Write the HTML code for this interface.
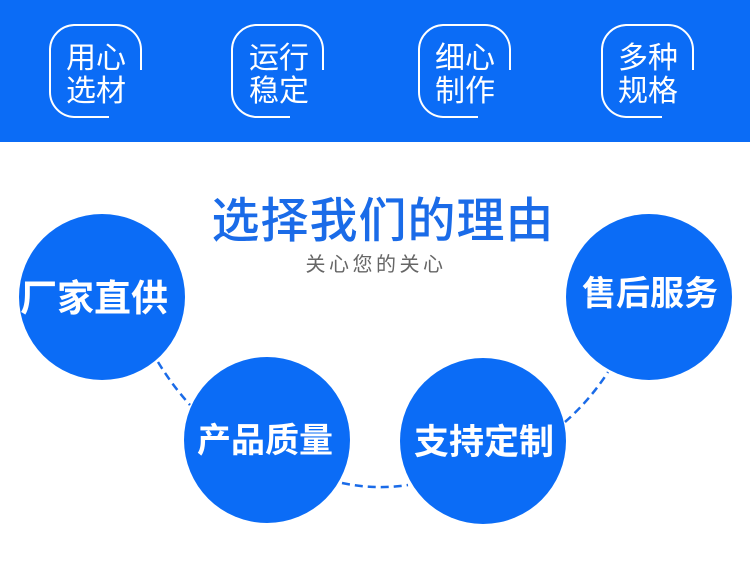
<!DOCTYPE html>
<html><head><meta charset="utf-8"><style>
html,body{margin:0;padding:0;background:#fff;}
svg{display:block;}
text{font-family:"Liberation Sans","Noto Sans CJK SC",sans-serif;}
</style></head><body>
<svg width="750" height="588" viewBox="0 0 750 588" xmlns="http://www.w3.org/2000/svg">
<rect x="0" y="0" width="750" height="142" fill="#0b6cf6"/>
<g fill="none" stroke="#fff" stroke-width="2">
<path d="M141,70 V49 A25,25 0 0 0 116,25 H74 A25,25 0 0 0 50,49 V92 A25,25 0 0 0 74,117 H109"/>
<path d="M323,70 V49 A25,25 0 0 0 298,25 H256 A25,25 0 0 0 232,49 V92 A25,25 0 0 0 256,117 H290"/>
<path d="M510,70 V49 A25,25 0 0 0 485,25 H443 A25,25 0 0 0 419,49 V92 A25,25 0 0 0 443,117 H478"/>
<path d="M693,70 V49 A25,25 0 0 0 668,25 H626 A25,25 0 0 0 602,49 V92 A25,25 0 0 0 626,117 H662"/>
</g>
<g fill="#fff" font-size="30">
<text x="66" y="68">用心</text><text x="66" y="101">选材</text>
<text x="249" y="68">运行</text><text x="249" y="101">稳定</text>
<text x="435" y="68">细心</text><text x="435" y="101">制作</text>
<text x="618" y="68">多种</text><text x="618" y="101">规格</text>
</g>
<text x="383" y="237" text-anchor="middle" font-size="48" font-weight="500" letter-spacing="1" fill="#1a6be8">选择我们的理由</text>
<text x="376" y="271" text-anchor="middle" font-size="20" letter-spacing="3.5" fill="#666">关心您的关心</text>
<g fill="none" stroke="#1a6be8" stroke-width="2.5" stroke-dasharray="8,5">
<path d="M158,362 Q172,385 190,405"/>
<path d="M342,483 Q375,490 408,485"/>
<path d="M565,422 Q590,400 608,372"/>
</g>
<g fill="#0b6cf6">
<ellipse cx="102" cy="297" rx="83" ry="83"/>
<ellipse cx="267" cy="440" rx="83" ry="83"/>
<ellipse cx="483" cy="441" rx="83" ry="83"/>
<ellipse cx="649" cy="297" rx="83" ry="83"/>
</g>
<g fill="#fff" font-weight="bold" text-anchor="middle">
<text x="94" y="311" font-size="37">厂家直供</text>
<text x="265" y="452" font-size="34">产品质量</text>
<text x="484" y="454" font-size="35">支持定制</text>
<text x="650" y="305" font-size="34">售后服务</text>
</g>
</svg>
</body></html>
